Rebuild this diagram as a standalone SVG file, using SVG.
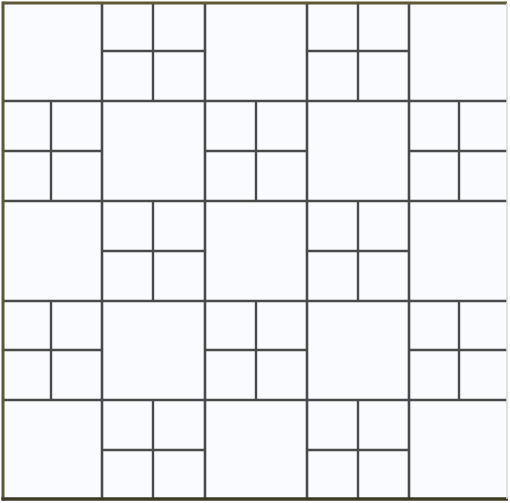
<svg xmlns="http://www.w3.org/2000/svg" width="510" height="503" viewBox="0 0 510 503">
<style>
.g line{stroke:#4a4a4a;stroke-width:2.6}
.s line{stroke:#4a4a4a;stroke-width:2.4}
</style>
<rect width="510" height="503" fill="#ffffff"/>
<rect x="3" y="3" width="504" height="496" fill="#f9fbfe"/>
<g class="g">
<line x1="102" y1="3" x2="102" y2="499"/>
<line x1="205" y1="3" x2="205" y2="499"/>
<line x1="307" y1="3" x2="307" y2="499"/>
<line x1="409" y1="3" x2="409" y2="499"/>
<line x1="3" y1="101" x2="507" y2="101"/>
<line x1="3" y1="201" x2="507" y2="201"/>
<line x1="3" y1="301" x2="507" y2="301"/>
<line x1="3" y1="400" x2="507" y2="400"/>
</g>
<g class="s">
<!-- row 0 -->
<line x1="153" y1="3" x2="153" y2="101"/><line x1="102" y1="51" x2="205" y2="51"/>
<line x1="358" y1="3" x2="358" y2="101"/><line x1="307" y1="51" x2="409" y2="51"/>
<!-- row 1 -->
<line x1="51" y1="101" x2="51" y2="201"/><line x1="3" y1="151" x2="102" y2="151"/>
<line x1="256" y1="101" x2="256" y2="201"/><line x1="205" y1="151" x2="307" y2="151"/>
<line x1="459" y1="101" x2="459" y2="201"/><line x1="409" y1="151" x2="507" y2="151"/>
<!-- row 2 -->
<line x1="153" y1="201" x2="153" y2="301"/><line x1="102" y1="251" x2="205" y2="251"/>
<line x1="358" y1="201" x2="358" y2="301"/><line x1="307" y1="251" x2="409" y2="251"/>
<!-- row 3 -->
<line x1="51" y1="301" x2="51" y2="400"/><line x1="3" y1="350" x2="102" y2="350"/>
<line x1="256" y1="301" x2="256" y2="400"/><line x1="205" y1="350" x2="307" y2="350"/>
<line x1="459" y1="301" x2="459" y2="400"/><line x1="409" y1="350" x2="507" y2="350"/>
<!-- row 4 -->
<line x1="153" y1="400" x2="153" y2="499"/><line x1="102" y1="450" x2="205" y2="450"/>
<line x1="358" y1="400" x2="358" y2="499"/><line x1="307" y1="450" x2="409" y2="450"/>
</g>
<g fill="none">
<line x1="3" y1="3" x2="507" y2="3" stroke="#5c5838" stroke-width="3"/>
<line x1="3" y1="1.5" x2="3" y2="500.5" stroke="#5c5838" stroke-width="3"/>
<line x1="1.5" y1="499" x2="508" y2="499" stroke="#3c3a24" stroke-width="3.5"/>
<line x1="507" y1="3" x2="507" y2="499" stroke="#d8d8d8" stroke-width="1.5"/>
</g>
</svg>
